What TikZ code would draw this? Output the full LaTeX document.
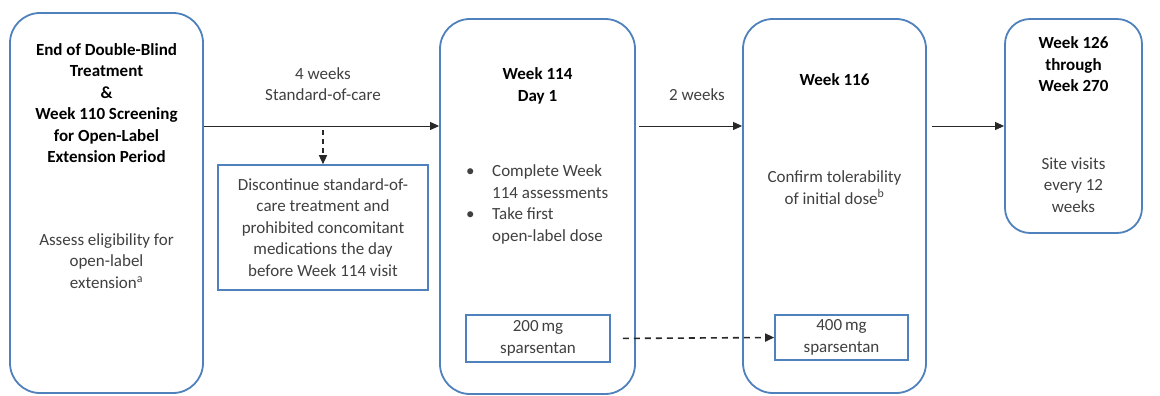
\documentclass[tikz,border=0pt]{standalone}
\usepackage{fontspec}
\setmainfont{Carlito}
\usetikzlibrary{arrows.meta,calc}
\definecolor{boxblue}{RGB}{79,129,189}
\definecolor{bodygray}{RGB}{64,64,64}
\definecolor{linegray}{RGB}{40,40,40}
\begin{document}
\begin{tikzpicture}[x=1pt,y=-1pt,
  stage/.style={draw=boxblue,line width=1.8pt,rounded corners=30pt,inner sep=0pt},
  plain/.style={draw=boxblue,line width=1.6pt,inner sep=0pt},
  title/.style={font=\fontsize{17}{21.5}\selectfont\bfseries,text=black,align=center,inner sep=0pt},
  body/.style={font=\fontsize{17}{21.5}\selectfont,text=bodygray,align=center,inner sep=0pt},
  arr/.style={draw=linegray,line width=1pt,-{Triangle[length=9pt,width=8pt]}},
  darr/.style={draw=linegray,line width=1.6pt,dash pattern=on 6pt off 5pt,-{Triangle[length=9pt,width=8pt]}}]
\useasboundingbox[fill=white] (0,0) rectangle (1160,396);
% stage boxes
\node[stage,minimum width=193pt,minimum height=380pt] (box1) at (106.5,203) {};
\node[stage,minimum width=195pt,minimum height=375pt] (box2) at (537.5,206.5) {};
\node[stage,minimum width=183pt,minimum height=374pt] (box3) at (834.5,206) {};
\node[stage,rounded corners=25pt,minimum width=137pt,minimum height=214pt] (box4) at (1073.5,126) {};
% box 1 texts
\node[title] (t1) at (106.5,103) {End of Double-Blind\\Treatment\\\&\\Week 110 Screening\\for Open-Label\\Extension Period};
\node[body] (b1) at (106.5,261) {Assess eligibility for\\open-label\\extension\textsuperscript{a}};
% box 2 texts
\node[title] (t2) at (537.5,86) {Week 114\\Day 1};
\node[body,align=left,anchor=west] (b2) at (466,204.5) {\makebox[26pt][l]{\textbullet}Complete Week\\\hspace*{26pt}114 assessments\\\makebox[26pt][l]{\textbullet}Take first\\\hspace*{26pt}open-label dose};
\node[plain,body,minimum width=144pt,minimum height=47pt] (d200) at (538,338.5) {200\,mg\\sparsentan};
% box 3 texts
\node[title] (t3) at (834.5,80) {Week 116};
\node[body] (b3) at (834.5,187.5) {Confirm tolerability\\of initial dose\textsuperscript{b}};
\node[plain,body,minimum width=133pt,minimum height=45pt] (d400) at (841.5,337.5) {400\,mg\\sparsentan};
% box 4 texts
\node[title] (t4) at (1073.5,64.5) {Week 126\\through\\Week 270};
\node[body] (b4) at (1073.5,185) {Site visits\\every 12\\weeks};
% discontinue box
\node[plain,body,minimum width=210pt,minimum height=125pt] (disc) at (323,227.5) {Discontinue standard-of-\\care treatment and\\prohibited concomitant\\medications the day\\before Week 114 visit};
% labels
\node[body] (l1) at (323,84) {4 weeks\\Standard-of-care};
\node[body] (l2) at (697,95) {2 weeks};
% connectors
\coordinate (lvl) at (0,126);
\coordinate (split) at (323,126);
\draw[arr] (box1.east|-lvl) -- (box2.west|-lvl);
\draw[arr,shorten <=3pt] (box2.east|-lvl) -- (box3.west|-lvl);
\draw[arr,shorten <=5pt] (box3.east|-lvl) -- (box4.west|-lvl);
\draw[darr,line width=1.3pt,dash pattern=on 5pt off 4pt,shorten <=4pt] (split) -- (disc.north);
\draw[darr,shorten <=12pt] (d200.east) -- (d400.west);
\end{tikzpicture}
\end{document}
